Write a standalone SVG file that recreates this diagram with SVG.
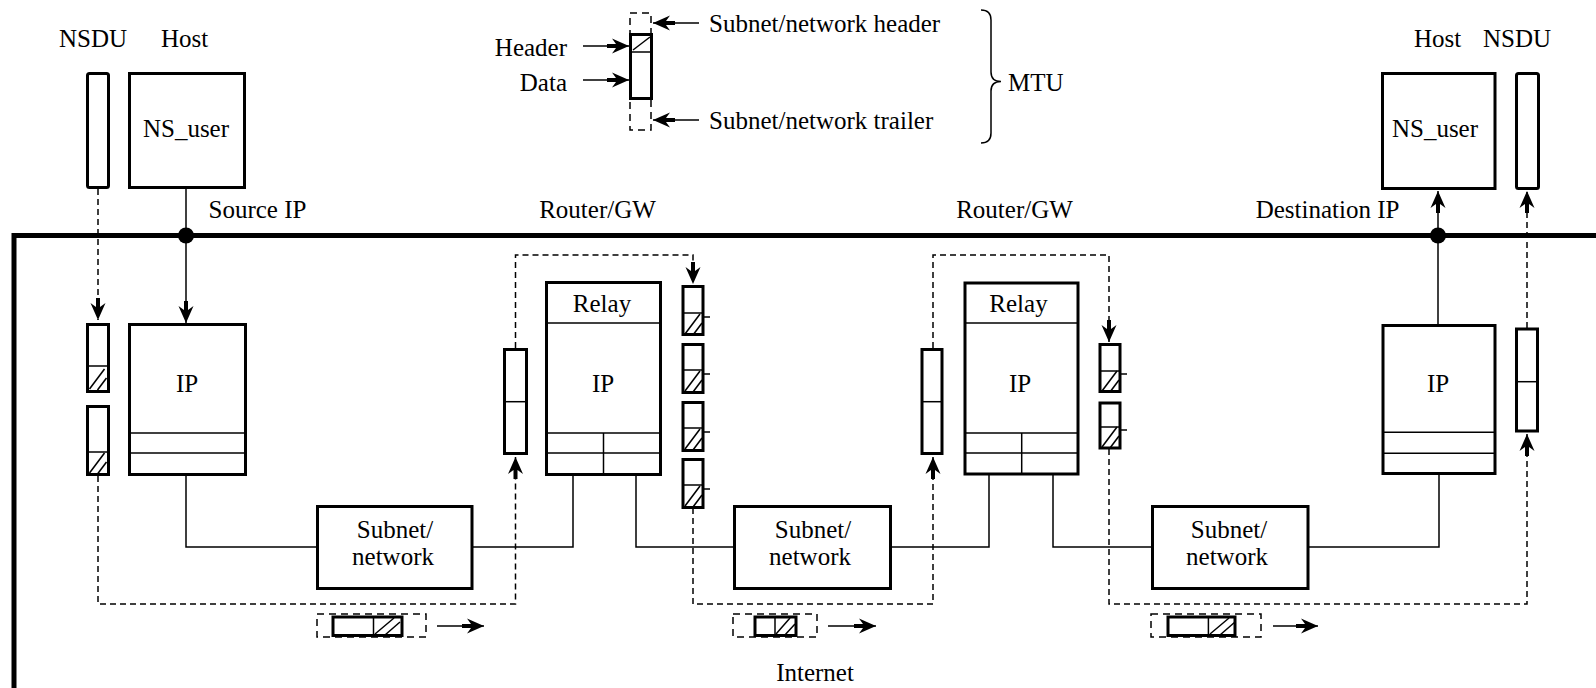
<svg xmlns="http://www.w3.org/2000/svg" xmlns:xlink="http://www.w3.org/1999/xlink" width="1596" height="688" viewBox="0 0 1596 688">
<style>
.box{fill:#fff;stroke:#000;stroke-width:3}
.thin{fill:none;stroke:#000;stroke-width:1.5}
.dash{fill:none;stroke:#000;stroke-width:1.5;stroke-dasharray:6 4}
.pdash{fill:none;stroke:#000;stroke-width:1.5;stroke-dasharray:7 5}
.bus{fill:none;stroke:#000;stroke-width:5}
text{font-family:"Liberation Serif","DejaVu Serif","Times New Roman",serif;font-size:25px;fill:#000}
.m{text-anchor:middle}
.e{text-anchor:end}
</style>
<defs>
<marker id="ah" markerUnits="userSpaceOnUse" viewBox="-23 -8 24 16" refX="0" refY="0" markerWidth="24" markerHeight="16" orient="auto">
<path d="M0,0 L-17,-7.5 L-13,-2 L-22,-2 L-22,2 L-13,2 L-17,7.5 Z" fill="#000"/>
</marker>
<g id="hv">
<line class="thin" x1="2" y1="21" x2="17" y2="1"/>
<line class="thin" x1="10" y1="22" x2="19" y2="10"/>
</g>
<g id="hvt">
<use xlink:href="#hv"/>
<line class="thin" x1="20" y1="4" x2="27" y2="4"/>
</g>
<g id="hh">
<line class="thin" x1="1" y1="17" x2="20" y2="1"/>
<line class="thin" x1="11" y1="18" x2="26" y2="5"/>
</g>
</defs>

<g id="network-frame">
<path class="bus" d="M14,688 V235.5 H1596"/>
<circle cx="186" cy="235.5" r="8" fill="#000"/>
<circle cx="1438" cy="235.5" r="8" fill="#000"/>
</g>

<g id="connectors">
<line class="thin" x1="186" y1="189" x2="186" y2="323" marker-end="url(#ah)"/>
<line class="thin" x1="1438" y1="324" x2="1438" y2="191" marker-end="url(#ah)"/>
<path class="thin" d="M186,476 V547 H317"/>
<path class="thin" d="M472,547 H573 V475"/>
<path class="thin" d="M636,475 V547 H733"/>
<path class="thin" d="M891,547 H989 V475"/>
<path class="thin" d="M1053,475 V547 H1151"/>
<path class="thin" d="M1309,547 H1439 V475"/>
<line class="dash" x1="98" y1="189" x2="98" y2="320" marker-end="url(#ah)"/>
<path class="dash" d="M98,476 V604 H515.5 V457" marker-end="url(#ah)"/>
<path class="dash" d="M515.5,348 V255 H693 V284" marker-end="url(#ah)"/>
<path class="dash" d="M693,508 V604 H933 V457" marker-end="url(#ah)"/>
<path class="dash" d="M933,348 V255 H1109 V342" marker-end="url(#ah)"/>
<path class="dash" d="M1109,449 V604 H1527 V434" marker-end="url(#ah)"/>
<path class="dash" d="M1527,328 V191" marker-end="url(#ah)"/>
<line class="thin" x1="437" y1="626" x2="484" y2="626" marker-end="url(#ah)"/>
<line class="thin" x1="828" y1="626" x2="876" y2="626" marker-end="url(#ah)"/>
<line class="thin" x1="1273" y1="626" x2="1318" y2="626" marker-end="url(#ah)"/>
<line class="thin" x1="583" y1="46" x2="629" y2="46" marker-end="url(#ah)"/>
<line class="thin" x1="583" y1="80" x2="629" y2="80" marker-end="url(#ah)"/>
<line class="thin" x1="699" y1="23" x2="653" y2="23" marker-end="url(#ah)"/>
<line class="thin" x1="699" y1="120" x2="653" y2="120" marker-end="url(#ah)"/>
</g>

<g id="labels">
<text class="m" x="93" y="47">NSDU</text>
<text class="m" x="184.5" y="47">Host</text>
<text class="m" x="257.5" y="218">Source IP</text>
<text class="m" x="597.5" y="218">Router/GW</text>
<text class="m" x="1014.5" y="218">Router/GW</text>
<text class="m" x="1327.5" y="218">Destination IP</text>
<text class="m" x="1437.5" y="47">Host</text>
<text class="m" x="1517" y="47">NSDU</text>
<text class="m" x="815" y="681">Internet</text>
</g>

<g id="legend">
<rect class="pdash" x="630" y="13" width="21" height="117"/>
<rect class="box" x="630.5" y="34.5" width="21" height="64"/>
<line class="thin" x1="630.5" y1="52" x2="651.5" y2="52"/>
<line class="thin" x1="633" y1="50" x2="650" y2="37"/>
<text class="e" x="567" y="56">Header</text>
<text class="e" x="567" y="91">Data</text>
<text x="709" y="32">Subnet/network header</text>
<text x="709" y="129">Subnet/network trailer</text>
<path class="thin" d="M981,10 Q991,10 991,20 V72 Q991,81.5 1001,81.5 Q991,81.5 991,91 V133 Q991,143 981,143"/>
<text x="1008" y="91">MTU</text>
</g>

<g id="nsdu-src">
<rect class="box" x="87.5" y="73.5" width="21" height="114" rx="2"/>
</g>
<g id="nsuser-src">
<rect class="box" x="129.5" y="73.5" width="115" height="114"/>
<text class="m" x="186" y="137">NS_user</text>
</g>
<g id="frag-src">
<rect class="box" x="87.5" y="324.5" width="21" height="67"/>
<line class="thin" x1="87.5" y1="366" x2="108.5" y2="366"/>
<use xlink:href="#hv" x="87.5" y="368"/>
<rect class="box" x="87.5" y="406.5" width="21" height="68"/>
<line class="thin" x1="87.5" y1="452" x2="108.5" y2="452"/>
<use xlink:href="#hv" x="87.5" y="452"/>
</g>
<g id="ip-src">
<rect class="box" x="129.5" y="324.5" width="116" height="150"/>
<line class="thin" x1="129.5" y1="433" x2="245.5" y2="433"/>
<line class="thin" x1="129.5" y1="453" x2="245.5" y2="453"/>
<text class="m" x="187" y="392">IP</text>
</g>

<g id="subnet1">
<rect class="box" x="317.5" y="506.5" width="154.5" height="82"/>
<text class="m" x="395" y="538">Subnet/</text>
<text class="m" x="393" y="565">network</text>
</g>
<g id="packet1">
<rect class="pdash" x="317" y="614" width="109" height="23"/>
<rect class="box" x="333" y="617" width="69" height="18.5"/>
<line class="thin" x1="373.5" y1="617" x2="373.5" y2="635.5"/>
<use xlink:href="#hh" x="374" y="617"/>
</g>

<g id="pdu-r1">
<rect class="box" x="504.5" y="349.5" width="22" height="104"/>
<line class="thin" x1="504.5" y1="401.7" x2="526.5" y2="401.7"/>
</g>
<g id="router1">
<rect class="box" x="546.5" y="282.5" width="114" height="192"/>
<line class="thin" x1="546.5" y1="323" x2="660.5" y2="323"/>
<line class="thin" x1="546.5" y1="433" x2="660.5" y2="433"/>
<line class="thin" x1="546.5" y1="453" x2="660.5" y2="453"/>
<line class="thin" x1="603.5" y1="433" x2="603.5" y2="474.5"/>
<text class="m" x="602" y="312">Relay</text>
<text class="m" x="603" y="392">IP</text>
</g>
<g id="frags-r1">
<rect class="box" x="683" y="286.5" width="20" height="48"/>
<line class="thin" x1="683" y1="313" x2="703" y2="313"/>
<use xlink:href="#hvt" x="683" y="313"/>
<rect class="box" x="683" y="344.5" width="20" height="48"/>
<line class="thin" x1="683" y1="370" x2="703" y2="370"/>
<use xlink:href="#hvt" x="683" y="370"/>
<rect class="box" x="683" y="402.5" width="20" height="48"/>
<line class="thin" x1="683" y1="428" x2="703" y2="428"/>
<use xlink:href="#hvt" x="683" y="428"/>
<rect class="box" x="683" y="459.5" width="20" height="48"/>
<line class="thin" x1="683" y1="485" x2="703" y2="485"/>
<use xlink:href="#hvt" x="683" y="485"/>
</g>

<g id="subnet2">
<rect class="box" x="734.5" y="506.5" width="156" height="82"/>
<text class="m" x="813" y="538">Subnet/</text>
<text class="m" x="810" y="565">network</text>
</g>
<g id="packet2">
<rect class="pdash" x="733" y="614" width="84" height="23"/>
<rect class="box" x="755" y="617" width="41" height="18.5"/>
<line class="thin" x1="775" y1="617" x2="775" y2="635.5"/>
<line class="thin" x1="776" y1="634" x2="790" y2="618"/>
<line class="thin" x1="784" y1="636" x2="795" y2="624"/>
</g>

<g id="pdu-r2">
<rect class="box" x="922" y="349.5" width="20" height="104"/>
<line class="thin" x1="922" y1="401.7" x2="942" y2="401.7"/>
</g>
<g id="router2">
<rect class="box" x="965" y="283" width="113" height="191"/>
<line class="thin" x1="965" y1="323" x2="1078" y2="323"/>
<line class="thin" x1="965" y1="433" x2="1078" y2="433"/>
<line class="thin" x1="965" y1="453" x2="1078" y2="453"/>
<line class="thin" x1="1021.7" y1="433" x2="1021.7" y2="474"/>
<text class="m" x="1018.5" y="312">Relay</text>
<text class="m" x="1020" y="392">IP</text>
</g>
<g id="frags-r2">
<rect class="box" x="1100" y="344.5" width="20" height="47"/>
<line class="thin" x1="1100" y1="371" x2="1120" y2="371"/>
<use xlink:href="#hvt" x="1100" y="370"/>
<rect class="box" x="1100" y="403" width="20" height="45"/>
<line class="thin" x1="1100" y1="427" x2="1120" y2="427"/>
<use xlink:href="#hvt" x="1100" y="426"/>
</g>

<g id="subnet3">
<rect class="box" x="1152.5" y="506.5" width="155.5" height="82"/>
<text class="m" x="1229" y="538">Subnet/</text>
<text class="m" x="1227" y="565">network</text>
</g>
<g id="packet3">
<rect class="pdash" x="1151" y="614" width="110" height="23"/>
<rect class="box" x="1168" y="617" width="67" height="18.5"/>
<line class="thin" x1="1208.4" y1="617" x2="1208.4" y2="635.5"/>
<use xlink:href="#hh" x="1209" y="617"/>
</g>

<g id="ip-dst">
<rect class="box" x="1383" y="325.5" width="112" height="148"/>
<line class="thin" x1="1383" y1="432.3" x2="1495" y2="432.3"/>
<line class="thin" x1="1383" y1="453.3" x2="1495" y2="453.3"/>
<text class="m" x="1438" y="392">IP</text>
</g>
<g id="pdu-dst">
<rect class="box" x="1516.5" y="329" width="21" height="102"/>
<line class="thin" x1="1516.5" y1="381.7" x2="1537.5" y2="381.7"/>
</g>
<g id="nsuser-dst">
<rect class="box" x="1382.5" y="73.5" width="112.5" height="115"/>
<text class="m" x="1435" y="137">NS_user</text>
</g>
<g id="nsdu-dst">
<rect class="box" x="1516.5" y="73.5" width="22" height="115" rx="2"/>
</g>
</svg>
